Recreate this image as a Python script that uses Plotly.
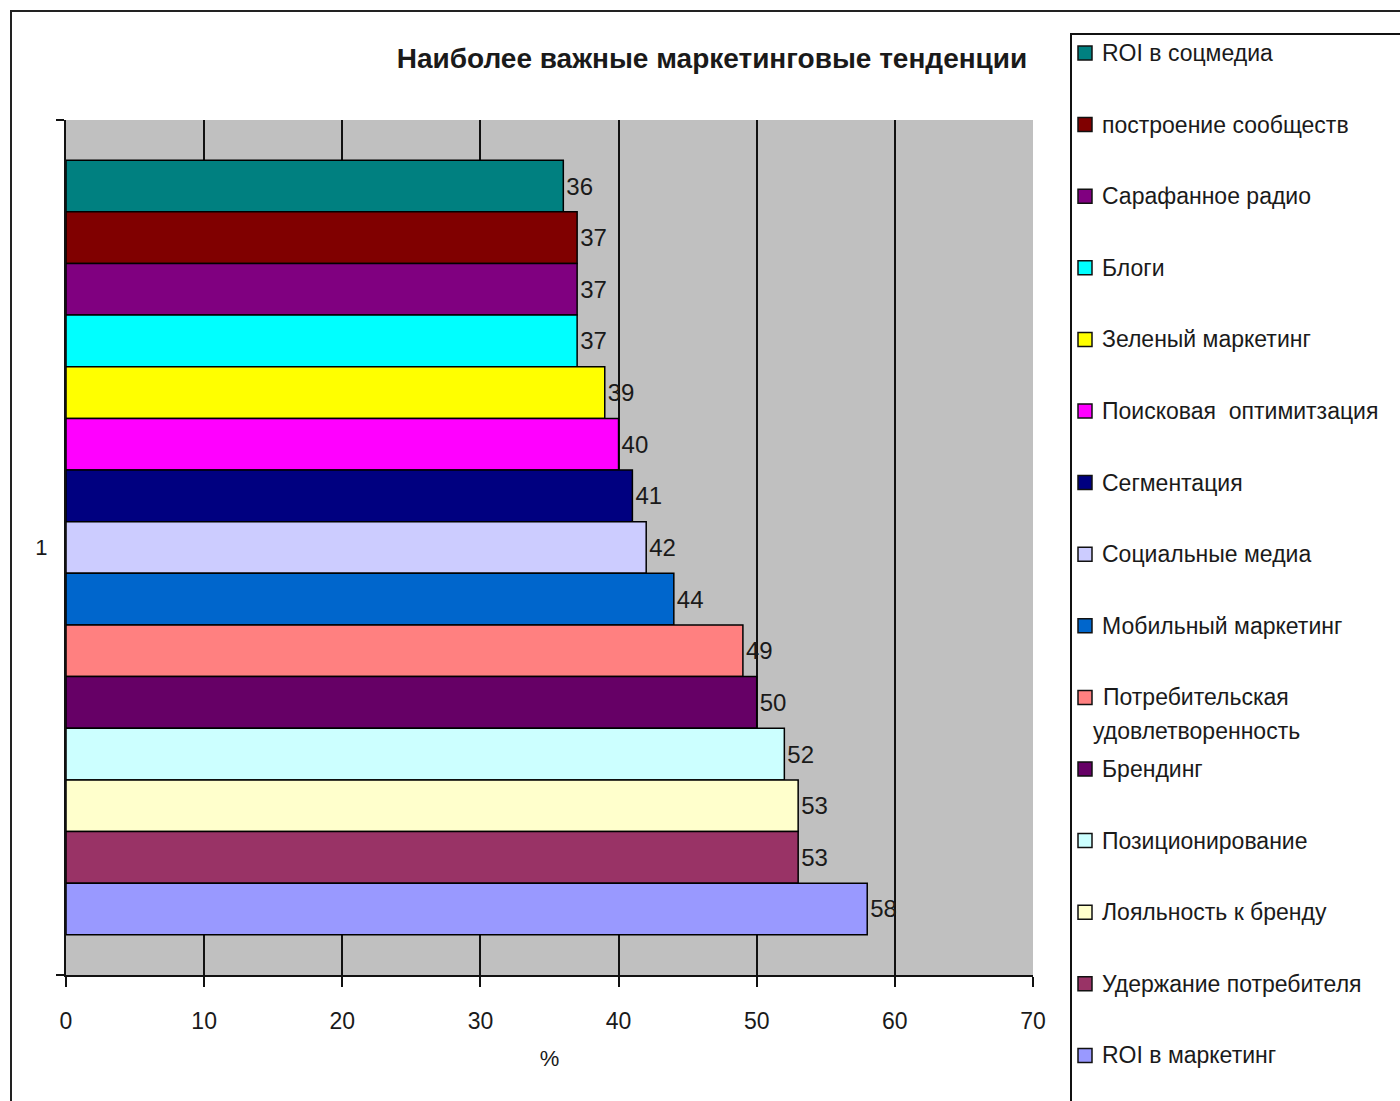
import plotly.graph_objects as go

# Survey results: share of respondents (%) naming each trend
category = ["1"]
trends = [
    "ROI в соцмедиа",
    "построение сообществ",
    "Сарафанное радио",
    "Блоги",
    "Зеленый маркетинг",
    "Поисковая  оптимитзация",
    "Сегментация",
    "Социальные медиа",
    "Мобильный маркетинг",
    "Потребительская<br>удовлетворенность",
    "Брендинг",
    "Позиционирование",
    "Лояльность к бренду",
    "Удержание потребителя",
    "ROI в маркетинг",
]
values = [36, 37, 37, 37, 39, 40, 41, 42, 44, 49, 50, 52, 53, 53, 58]
colors = [
    "#008080", "#800000", "#800080", "#00FFFF", "#FFFF00",
    "#FF00FF", "#000080", "#CCCCFF", "#0066CC", "#FF8080",
    "#660066", "#CCFFFF", "#FFFFCC", "#993366", "#9999FF",
]
x_ticks = [0, 10, 20, 30, 40, 50, 60, 70]

W, H = 1400, 1101
L, R, T, B = 66, 1033, 120, 975  # plot area in pixels
FONT = "Liberation Sans, Arial, sans-serif"
INK = "#1a1a1a"


def px(x):
    return (x - L) / (R - L)


def py(y):
    return (B - y) / (B - T)


fig = go.Figure()
for name, val, col in zip(trends, values, colors):
    fig.add_trace(go.Bar(
        x=[val], y=category, orientation="h", name=name,
        marker=dict(color=col, line=dict(color="#000000", width=1.5)),
        text=[str(val)], textposition="outside",
        textfont=dict(family=FONT, size=24, color=INK),
        cliponaxis=False, showlegend=False,
    ))

shapes = [
    # outer chart frame
    dict(type="rect", xref="paper", yref="paper",
         x0=px(11), x1=px(1430), y0=py(11), y1=py(1130),
         line=dict(color="#222222", width=2), fillcolor="rgba(0,0,0,0)", layer="below"),
    # legend frame
    dict(type="rect", xref="paper", yref="paper",
         x0=px(1071), x1=px(1430), y0=py(34), y1=py(1130),
         line=dict(color="#111111", width=2), fillcolor="rgba(0,0,0,0)"),
]
annotations = []
step = 71.6
for i, (name, col) in enumerate(zip(trends, colors)):
    yc = 53 + i * step
    shapes.append(dict(type="rect", xref="paper", yref="paper",
                       x0=px(1078), x1=px(1092), y0=py(yc - 7), y1=py(yc + 7),
                       fillcolor=col, line=dict(color="#111111", width=1.5)))
    lines = name.split("<br>")
    if len(lines) == 1:
        annotations.append(dict(xref="paper", yref="paper", x=px(1100), y=py(yc),
                                xanchor="left", yanchor="middle",
                                text=name, showarrow=False,
                                font=dict(family=FONT, size=23, color=INK)))
    else:
        # wrapped entry: lines centred on each other, 34 px apart
        for j, part in enumerate(lines):
            annotations.append(dict(xref="paper", yref="paper", x=px(1196), y=py(yc + 34 * j),
                                    xanchor="center", yanchor="middle",
                                    text=part, showarrow=False,
                                    font=dict(family=FONT, size=23, color=INK)))

fig.update_layout(
    width=W, height=H,
    margin=dict(l=L, r=W - R, t=T, b=H - B),
    paper_bgcolor="#FFFFFF", plot_bgcolor="#C0C0C0",
    barmode="group", bargap=0.094, bargroupgap=0,
    font=dict(family=FONT, size=22, color=INK),
    title=dict(text="<b>Наиболее важные маркетинговые тенденции</b>",
               x=px(712), xref="paper", xanchor="center",
               y=1 - 58 / H, yref="container", yanchor="middle",
               font=dict(family=FONT, size=28, color=INK)),
    xaxis=dict(range=[0, 70], tickvals=x_ticks, ticktext=[str(v) for v in x_ticks],
               showgrid=True, gridcolor="#111111", gridwidth=2,
               showline=True, linecolor="#111111", linewidth=2,
               ticks="outside", ticklen=10, tickwidth=2, tickcolor="#111111",
               ticklabelstandoff=14, zeroline=False,
               tickfont=dict(family=FONT, size=23, color=INK),
               title=dict(text="%", standoff=18,
                          font=dict(family=FONT, size=22, color=INK))),
    yaxis=dict(type="category", autorange="reversed", tickson="boundaries",
               showgrid=False, showline=True, linecolor="#111111", linewidth=2,
               ticks="outside", ticklen=8, tickwidth=2, tickcolor="#111111",
               ticklabelstandoff=12,
               tickfont=dict(family=FONT, size=22, color=INK)),
    shapes=shapes, annotations=annotations, showlegend=False,
)

fig.write_html("out.html")
